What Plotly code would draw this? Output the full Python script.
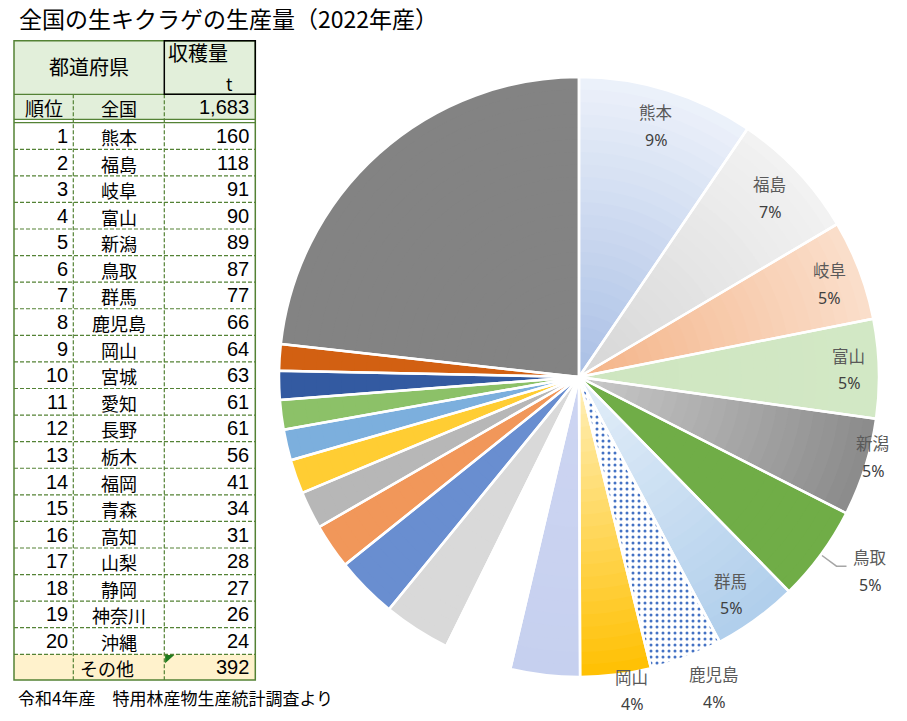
import math
import plotly.graph_objects as go

# ---------------- data ----------------
title_text = "全国の生キクラゲの生産量（2022年産）"
footer_text = "令和4年産　特用林産物生産統計調査より"
header_pref = "都道府県"
header_value = "収穫量"
header_unit = "t"
header_rank = "順位"
national_label = "全国"
national_total = 1683

ranks = list(range(1, 21))
prefectures = ["熊本", "福島", "岐阜", "富山", "新潟", "鳥取", "群馬", "鹿児島", "岡山", "宮城",
               "愛知", "長野", "栃木", "福岡", "青森", "高知", "山梨", "静岡", "神奈川", "沖縄"]
harvest_t = [160, 118, 91, 90, 89, 87, 77, 66, 64, 63,
             61, 61, 56, 41, 34, 31, 28, 27, 26, 24]
other_label = "その他"
other_t = 392
labeled_count = 9   # slices with data labels

# ---------------- styles ----------------
W, H = 907, 721
JP = "Noto Sans CJK JP"
NUM = "Liberation Sans"
GREEN = "#548235"

# slice fill colours: (top, bottom) of a vertical gradient
slice_top = ["#F0F4FB", "#F8F8F8", "#FDF1E8", "#EEF6E9", "#CACACA", "#70AD47", "#E4EFF9",
             "#FFFFFF", "#FFF0BC", "#CDD5F2", "#FFFFFF", "#D9D9D9", "#698ED0", "#F1975A",
             "#B7B7B7", "#FFCD33", "#7CAFDD", "#8CC168", "#335AA1", "#D26012", "#838383"]
slice_bot = ["#A9BFE5", "#D6D6D6", "#F4B387", "#B7DAA2", "#6A6A6A", "#70AD47", "#ABCBEA",
             "#FFFFFF", "#FFC000", "#C6D0EF", "#FFFFFF", "#D9D9D9", "#698ED0", "#F1975A",
             "#B7B7B7", "#FFCD33", "#7CAFDD", "#8CC168", "#335AA1", "#D26012", "#838383"]
slice_pattern = ["", "", "", "", "", "", "", ".", "", "", "", "", "", "", "", "", "", "", "", "", ""]

# label placement: (radius factor, angle offset in degrees)
label_place = [(0.877, 0), (0.873, 0), (0.89, 0.5), (0.90, 0), (1.015, -2.3),
               (1.165, -2.6), (0.883, 1.2), (1.13, -2.6), (1.058, -2.5)]

CX, CY, R = 579, 377, 300
N_LAYERS = 24


def hex2rgb(h):
    h = h.lstrip("#")
    return tuple(int(h[i:i + 2], 16) for i in (0, 2, 4))


def lerp(c0, c1, t):
    a, b = hex2rgb(c0), hex2rgb(c1)
    return "rgb(%d,%d,%d)" % tuple(round(a[i] + (b[i] - a[i]) * t) for i in range(3))


def PX(x):
    return x / W


def PY(y):
    return 1 - y / H


fig = go.Figure()

# ---------------- pie ----------------
pie_labels = prefectures + [other_label]
pie_values = harvest_t + [other_t]
tot = sum(pie_values)
starts, ends = [], []
acc = 0
for v in pie_values:
    starts.append(acc / tot * 360)
    acc += v
    ends.append(acc / tot * 360)


def ybox(a0, a1):
    ys = [CY]
    for i in range(61):
        a = math.radians(a0 + (a1 - a0) * i / 60)
        ys.append(CY - R * math.cos(a))
    return min(ys), max(ys)


for k in range(N_LAYERS):
    r_out = R * (N_LAYERS - k) / N_LAYERS
    r_mid = R * (N_LAYERS - k - 0.5) / N_LAYERS
    cols = []
    for i in range(len(pie_values)):
        mid = math.radians((starts[i] + ends[i]) / 2)
        y = CY - r_mid * math.cos(mid)
        y0, y1 = ybox(starts[i], ends[i])
        t = 0 if y1 == y0 else min(1, max(0, (y - y0) / (y1 - y0)))
        cols.append(lerp(slice_top[i], slice_bot[i], t))
    fig.add_trace(go.Pie(
        values=pie_values, labels=pie_labels, sort=False, direction="clockwise", rotation=0,
        domain=dict(x=[PX(CX - r_out), PX(CX + r_out)], y=[PY(CY + r_out), PY(CY - r_out)]),
        marker=dict(colors=cols, line=dict(width=0),
                    pattern=dict(shape=slice_pattern, fgcolor="#4472C4", bgcolor="white",
                                 size=6, solidity=0.2)),
        textinfo="none", hoverinfo="skip", showlegend=False))

# white separators on top
fig.add_trace(go.Pie(
    values=pie_values, labels=pie_labels, sort=False, direction="clockwise", rotation=0,
    domain=dict(x=[PX(CX - R), PX(CX + R)], y=[PY(CY + R), PY(CY - R)]),
    marker=dict(colors=["rgba(0,0,0,0)"] * len(pie_values), line=dict(color="white", width=2.5)),
    textinfo="none", hoverinfo="skip", showlegend=False))

annotations = []
shapes = []

# data labels
for i in range(labeled_count):
    rf, da = label_place[i]
    mid = math.radians((starts[i] + ends[i]) / 2 + da)
    lx = CX + R * rf * math.sin(mid)
    ly = CY - R * rf * math.cos(mid)
    pct = round(pie_values[i] / tot * 100)
    annotations.append(dict(x=PX(lx), y=PY(ly - 13.5), xref="paper", yref="paper", text=pie_labels[i],
                            showarrow=False, xanchor="center", yanchor="middle",
                            font=dict(family=JP, size=16.5, color="#595959")))
    annotations.append(dict(x=PX(lx), y=PY(ly + 14), xref="paper", yref="paper", text="%d%%" % pct,
                            showarrow=False, xanchor="center", yanchor="middle",
                            font=dict(family="Noto Sans", size=16, color="#404040")))
    if i == 5:
        # leader line
        midr = math.radians((starts[i] + ends[i]) / 2)
        sx, sy = CX + R * 1.005 * math.sin(midr), CY - R * 1.005 * math.cos(midr)
        ex, ey = CX + R * 1.065 * math.sin(midr), CY - R * 1.065 * math.cos(midr)
        shapes.append(dict(type="path", xref="paper", yref="paper",
                           path="M %f %f L %f %f L %f %f" % (PX(sx), PY(sy), PX(ex), PY(ey), PX(ex + 10), PY(ey)),
                           line=dict(color="#A6A6A6", width=1.5)))

# ---------------- table ----------------
TL, TR = 14, 255.3
C1, C2 = 73.3, 164.3
Y_TOP, Y_H1, Y_H2a, Y_H2b = 40.7, 94.3, 119.3, 122.7
Y_OTHER, Y_BOT = 654.3, 680
ROW_H = (Y_OTHER - Y_H2b) / len(ranks)


def rect(x0, y0, x1, y1, **kw):
    d = dict(type="rect", xref="paper", yref="paper", x0=PX(x0), x1=PX(x1), y0=PY(y0), y1=PY(y1))
    d.update(kw)
    return d


def line(x0, y0, x1, y1, color=GREEN, width=1.3, dash="solid"):
    return dict(type="line", xref="paper", yref="paper", x0=PX(x0), x1=PX(x1), y0=PY(y0), y1=PY(y1),
                line=dict(color=color, width=width, dash=dash))


shapes.append(rect(TL, Y_TOP, TR, Y_H2a, fillcolor="#E2EFDA", line=dict(width=0)))
shapes.append(rect(TL, Y_OTHER, TR, Y_BOT, fillcolor="#FFF2CC", line=dict(width=0)))
DASH = "4px,2px"
for i in range(1, len(ranks) + 1):
    y = Y_H2b + i * ROW_H
    shapes.append(line(TL, y, TR, y, dash=DASH, width=1.2))
for x in (C1, C2):
    shapes.append(line(x, Y_H1, x, Y_BOT, dash=DASH, width=1.2))
shapes.append(line(TL, Y_H1, TR, Y_H1))
shapes.append(line(TL, Y_H2a, TR, Y_H2a))
shapes.append(line(TL, Y_H2b, TR, Y_H2b))
shapes.append(rect(TL, Y_TOP, TR, Y_BOT, line=dict(color=GREEN, width=1.5)))
shapes.append(rect(C2, Y_TOP, TR, Y_H1, line=dict(color="black", width=1.5)))
# excel indicator triangle
shapes.append(dict(type="path", xref="paper", yref="paper",
                   path="M %f %f L %f %f L %f %f Z" % (PX(C2 + 0.8), PY(Y_OTHER + 0.8), PX(C2 + 10), PY(Y_OTHER + 0.8),
                                                     PX(C2 + 0.8), PY(Y_OTHER + 9)),
                   fillcolor="#1E7B1E", line=dict(width=0)))


def txt(x, y, s, anchor="center", family=JP, size=18, color="black"):
    annotations.append(dict(x=PX(x), y=PY(y), xref="paper", yref="paper", text=s, showarrow=False,
                            xanchor=anchor, yanchor="middle", font=dict(family=family, size=size, color=color)))


txt(89, 67, header_pref, size=20)
txt(166, 53, header_value, anchor="left", size=20)
txt(229, 84, header_unit, size=17)
txt(44, 108, header_rank, size=19)
txt(119, 108, national_label, size=18)
txt(251, 107, "{:,}".format(national_total), anchor="right", family=NUM, size=20)

for i, (rk, pf, v) in enumerate(zip(ranks, prefectures, harvest_t)):
    yc = Y_H2b + (i + 0.5) * ROW_H
    txt(70, yc, str(rk), anchor="right", family=NUM, size=20)
    txt(119, yc + 1, pf, size=18)
    txt(251, yc, str(v), anchor="right", family=NUM, size=20)
yc = (Y_OTHER + Y_BOT) / 2
txt(107, yc + 1, other_label, size=18)
txt(251, yc, str(other_t), anchor="right", family=NUM, size=20)

# title & footer
txt(17, 18, title_text, anchor="left", size=23)
txt(16, 697, footer_text, anchor="left", size=17)

fig.update_layout(width=W, height=H, margin=dict(l=0, r=0, t=0, b=0),
                  paper_bgcolor="white", plot_bgcolor="white",
                  shapes=shapes, annotations=annotations, showlegend=False)
fig.write_html("out.html")
